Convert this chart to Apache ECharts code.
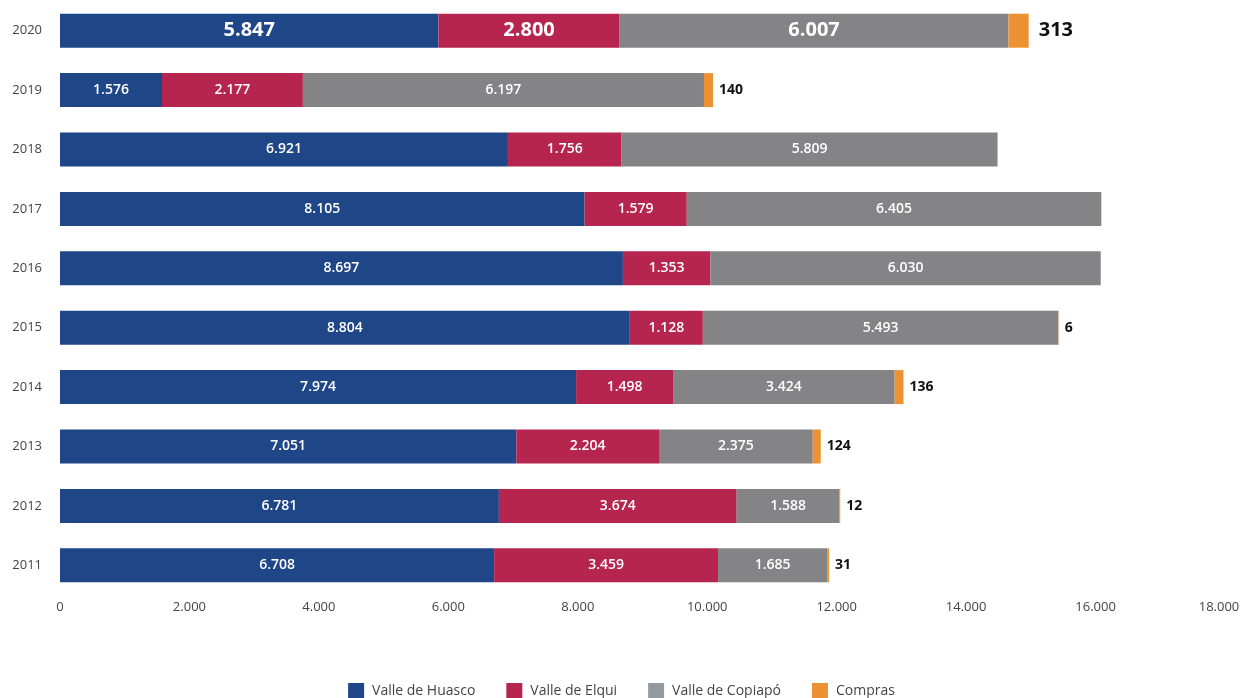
<!DOCTYPE html>
<html><head><meta charset="utf-8">
<script src="https://cdn.jsdelivr.net/npm/echarts@6/dist/echarts.min.js"></script>
<style>html,body{margin:0;padding:0;background:#fff}#c{width:1243px;height:698px}</style>
</head><body><div id="c"></div>
<script>
const years = ['2011','2012','2013','2014','2015','2016','2017','2018','2019','2020'];
const huasco  = [6708, 6781, 7051, 7974, 8804, 8697, 8105, 6921, 1576, 5847];
const elqui   = [3459, 3674, 2204, 1498, 1128, 1353, 1579, 1756, 2177, 2800];
const copiapo = [1685, 1588, 2375, 3424, 5493, 6030, 6405, 5809, 6197, 6007];
const compras = [31, 12, 124, 136, 6, 0, 0, 0, 140, 313];
const seriesNames = ['Valle de Huasco', 'Valle de Elqui', 'Valle de Copiapó', 'Compras'];
const barColors = ['#1f4788', '#b5254f', '#848486', '#ec9232'];
const legendColors = ['#1f4788', '#b5254f', '#939a9f', '#ec9232'];

const fmt = v => v.toLocaleString('de-DE');
const FONT = 'Open Sans';
const bigIdx = years.indexOf('2020');
const X_MAX = 18000;

function inner(arr) {
  return arr.map((v, i) => i === bigIdx
    ? { value: v, label: { fontSize: 20, fontWeight: 700 } }
    : v);
}
function outer(arr) {
  return arr.map((v, i) => i === bigIdx
    ? { value: v, label: { fontSize: 20, distance: 10 } }
    : v);
}

const chart = echarts.init(document.getElementById('c'));
const dataSets = [huasco, elqui, copiapo];
const series = dataSets.map((arr, k) => ({
  name: seriesNames[k], type: 'bar', stack: 'tot', barWidth: 34,
  itemStyle: { color: barColors[k] },
  label: { show: true, position: 'inside', color: '#fff', fontFamily: FONT,
    fontWeight: 600, fontSize: 14, formatter: p => fmt(p.value) },
  data: inner(arr)
}));
series.push({
  name: seriesNames[3], type: 'bar', stack: 'tot', barWidth: 34,
  itemStyle: { color: barColors[3] },
  label: { show: true, position: 'right', distance: 6, color: '#111', fontFamily: FONT,
    fontWeight: 700, fontSize: 14, formatter: p => p.value ? fmt(p.value) : '' },
  data: outer(compras)
});

chart.setOption({
  animation: false,
  textStyle: { fontFamily: FONT },
  grid: { left: 60, right: 18, top: 1, bottom: 103, containLabel: false, outerBoundsMode: 'none' },
  legend: {
    top: 678, left: 'center', itemWidth: 16, itemHeight: 16, itemGap: 31,
    icon: 'rect',
    textStyle: { fontFamily: FONT, fontSize: 14, color: '#444', padding: [0, 0, 0, 3] },
    data: seriesNames.map((n, k) => ({ name: n, itemStyle: { color: legendColors[k] } }))
  },
  xAxis: {
    type: 'value', min: 0, max: X_MAX, interval: 2000,
    axisLine: { show: false }, axisTick: { show: false }, splitLine: { show: false },
    axisLabel: { color: '#444', fontSize: 13, margin: 6,
      formatter: v => v === X_MAX ? '{r|' + fmt(v) + '}' : fmt(v),
      rich: { r: { color: '#444', fontSize: 13, fontFamily: FONT, padding: [0, 12, 0, 0] } } }
  },
  yAxis: {
    type: 'category', data: years,
    axisLine: { show: false }, axisTick: { show: false },
    axisLabel: { color: '#444', fontSize: 13, margin: 18 }
  },
  series
});
</script></body></html>
